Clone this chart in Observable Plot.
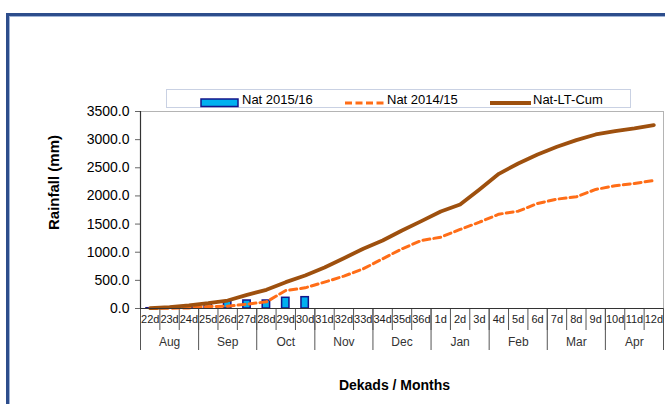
<!DOCTYPE html>
<html><head><meta charset="utf-8">
<script src="https://cdn.jsdelivr.net/npm/d3@7"></script>
<script src="https://cdn.jsdelivr.net/npm/@observablehq/plot@0.6"></script>
<style>
body{margin:0;background:#fff;font-family:"Liberation Sans",Arial,sans-serif;}
#wrap{position:relative;width:665px;height:404px;overflow:hidden;background:#fff;}
#chart{position:absolute;left:0;top:0;}
#frame{position:absolute;left:6px;top:13px;width:800px;height:600px;border-left:3px solid #2d4d8c;border-top:3px solid #2d4d8c;box-shadow:inset 1px 1px 0 #9fb3d6;pointer-events:none;}
#legend{position:absolute;left:166px;top:89px;width:465px;height:19px;border:1px solid #c9d1e3;background:#fff;box-sizing:border-box;}
.lg{position:absolute;font-size:13px;color:#000;line-height:15px;top:92px;white-space:nowrap;}
</style></head><body>
<div id="wrap"><div id="chart"></div><div id="legend"></div><div id="frame"></div></div>
<script>
const dekads = ["22d","23d","24d","25d","26d","27d","28d","29d","30d","31d","32d","33d","34d","35d","36d","1d","2d","3d","4d","5d","6d","7d","8d","9d","10d","11d","12d"];
const months = ["Aug","Sep","Oct","Nov","Dec","Jan","Feb","Mar","Apr"];
const seriesNames = ["Nat 2015/16","Nat 2014/15","Nat-LT-Cum"];
const nat201516 = [5,2,18,89,124,142,142,190,201];
const nat201415 = [0,4,10,35,41,77,118,320,367,468,575,705,883,1061,1208,1267,1404,1534,1676,1729,1866,1943,1985,2115,2180,2221,2275];
const natLTCum = [8,25,55,94,142,243,332,468,586,730,894,1061,1208,1386,1552,1724,1848,2115,2393,2577,2737,2873,2991,3092,3151,3199,3258];
const yTicks = [0,500,1000,1500,2000,2500,3000,3500];

const barData = nat201516.map((v,i)=>({i,v}));
const o = nat201415.map((v,i)=>({i,v}));
const b = natLTCum.map((v,i)=>({i,v}));
const n = dekads.length;
const monthStarts = d3.range(0, n+1, 3);
const monthMids = months.map((m,k)=>k*3+1.5);

const plot = Plot.plot({
  width: 665, height: 404,
  marginTop: 111, marginRight: 2, marginBottom: 96, marginLeft: 140,
  style: {fontFamily: "Liberation Sans, Arial, sans-serif", background: "transparent", color: "#000"},
  x: {type: "linear", domain: [0, n], axis: null},
  y: {domain: [0, 3500], axis: null},
  marks: [
    Plot.frame({stroke: "#b4b4b4"}),
    Plot.axisY(yTicks, {tickSize: 5, tickPadding: 6, tickFormat: d=>d.toFixed(1), fontSize: 14, stroke: "#666", label: null}),
    Plot.axisX(d3.range(n).map(i=>i+0.5), {tickSize: 0, tickPadding: 7, tickFormat: d=>dekads[Math.floor(d)], fontSize: 11, fill: "#222", label: null}),
    Plot.axisX(d3.range(n+1), {tickSize: 22, tickFormat: ()=>"", stroke: "#555", label: null}),
    Plot.axisX(monthStarts, {tickSize: 42, tickFormat: ()=>"", stroke: "#555", label: null}),
    Plot.axisX(monthMids, {tickSize: 0, tickPadding: 29, tickFormat: d=>months[Math.floor(d/3)], fontSize: 12, fill: "#333", label: null}),
    Plot.rectY(barData, {x1: d=>d.i, x2: d=>d.i+1, y: "v", insetLeft: 6, insetRight: 6, fill: "#00b0f0", stroke: "#14148a", strokeWidth: 1.5}),
    Plot.line(o, {x: d=>d.i+0.5, y: "v", stroke: "#ff6d17", strokeWidth: 3, strokeDasharray: "7,4", curve: "linear"}),
    Plot.line(b, {x: d=>d.i+0.5, y: "v", stroke: "#9e500e", strokeWidth: 3.8, curve: "linear"}),
    Plot.ruleY([0], {stroke: "#333", strokeWidth: 1.2}),
    Plot.ruleX([0], {stroke: "#333", strokeWidth: 1.2}),
    Plot.text(["Rainfall (mm)"], {frameAnchor: "top-left", dx: -86, dy: 71, rotate: -90, textAnchor: "middle", lineAnchor: "middle", fontSize: 15, fontWeight: "bold"}),
    Plot.text(["Dekads / Months"], {frameAnchor: "bottom-left", dx: 254, dy: 77, textAnchor: "middle", lineAnchor: "middle", fontSize: 14, fontWeight: "bold"})
  ]
});
document.getElementById("chart").appendChild(plot);

// legend
const wrap = document.getElementById("wrap");
function add(html, style){const d=document.createElement("div");d.innerHTML=html;Object.assign(d.style,style);wrap.appendChild(d);return d;}
add(`<svg width="40" height="10"><rect x="1" y="1" width="37" height="7.5" fill="#00b0f0" stroke="#14148a" stroke-width="1.5"/></svg>`, {position:"absolute", left:"200px", top:"94px"});
add(`<svg width="42" height="10"><line x1="0" y1="5" x2="41" y2="5" stroke="#ff6d17" stroke-width="3" stroke-dasharray="7,3.5"/></svg>`, {position:"absolute", left:"345px", top:"94px"});
add(`<svg width="42" height="10"><line x1="0" y1="5" x2="41" y2="5" stroke="#9e500e" stroke-width="4"/></svg>`, {position:"absolute", left:"490px", top:"94px"});
[[seriesNames[0],242],[seriesNames[1],387],[seriesNames[2],533]].forEach(([t,x])=>{
  const d=add("", {}); d.className="lg"; d.textContent=t; d.style.left=x+"px";
});
</script>
</body></html>
